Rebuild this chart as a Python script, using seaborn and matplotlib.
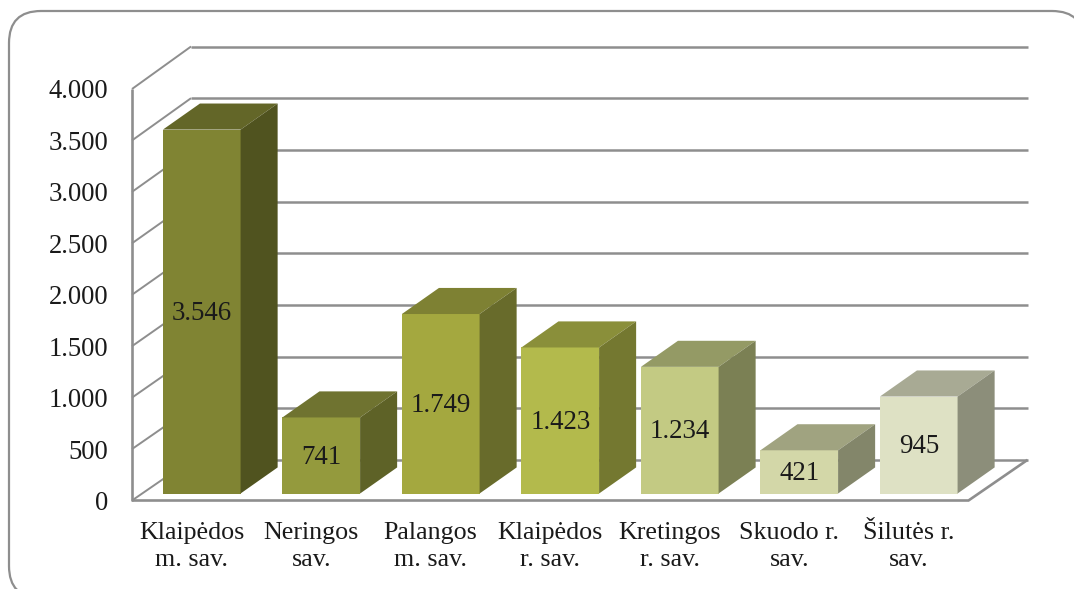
import matplotlib
matplotlib.use("Agg")
import matplotlib.pyplot as plt
import seaborn as sns
import pandas as pd
from matplotlib.patches import FancyBboxPatch

categories = ["Klaipėdos\nm. sav.", "Neringos\nsav.", "Palangos\nm. sav.", "Klaipėdos\nr. sav.",
              "Kretingos\nr. sav.", "Skuodo r.\nsav.", "Šilutės r.\nsav."]
values = [3546, 741, 1749, 1423, 1234, 421, 945]
value_labels = ["3.546", "741", "1.749", "1.423", "1.234", "421", "945"]
y_ticks = [0, 500, 1000, 1500, 2000, 2500, 3000, 3500, 4000]
y_tick_labels = ["0", "500", "1.000", "1.500", "2.000", "2.500", "3.000", "3.500", "4.000"]
front_colors = ["#808433", "#949A3D", "#A4A83F", "#B3BA4C", "#C3CA83", "#D3D7A8", "#DEE1C4"]
top_colors = ["#636628", "#6F7330", "#7E8133", "#8A8F3A", "#949A65", "#A0A380", "#A8AA94"]
side_colors = ["#50531F", "#5E6227", "#686B2B", "#747830", "#7B8054", "#83866A", "#8C8E7A"]

W, H = 1074, 589
GRAY = "#8E8E8E"
FONT = "Liberation Serif"
FS_Y, FS_X, FS_V = 19.2, 18.7, 19.4

sns.set_theme(style="white")
plt.rcParams["font.family"] = [FONT, "DejaVu Sans"]
fig = plt.figure(figsize=(W / 100, H / 100), dpi=100, facecolor="white")

def axes_px(x0, x1, ytop, ybot, **kw):
    return fig.add_axes([x0 / W, 1 - ybot / H, (x1 - x0) / W, (ybot - ytop) / H], **kw)

# rounded outer border
bg = axes_px(0, W, 0, H, zorder=0)
bg.set_xlim(0, W); bg.set_ylim(H, 0); bg.axis("off")
bg.add_patch(FancyBboxPatch((37, 39), 1019, 531, boxstyle="round,pad=28,rounding_size=32",
                            fc="white", ec=GRAY, lw=1.6, clip_on=False))

# wall / floor axes carrying the value axis and the category labels
ax = axes_px(132, 968.5, 89, 500.5, zorder=1)
ax.patch.set_alpha(0)
ax.set_xlim(-0.5, 6.5)
ax.set_ylim(0, 4000)
for s in ax.spines.values():
    s.set_visible(False)
n = len(categories)
WALL_DX, WALL_DY, WALL_STRETCH = 0.494, 395, 1.0045
x0, x1 = -0.5, n - 0.5
line = dict(color=GRAY, clip_on=False, solid_capstyle="butt")
for t in y_ticks:
    back = WALL_DY + t * WALL_STRETCH
    ax.plot([x0, x0 + WALL_DX], [t, back], lw=1.4, **line)
    ax.plot([x0 + WALL_DX, x1 + WALL_DX], [back, back], lw=1.8, **line)
ax.plot([x0, x0], [0, 4000], lw=1.9, **line)
ax.plot([x0, x1, x1 + WALL_DX], [0, 0, WALL_DY], solid_joinstyle="miter", lw=1.9, **line)
ax.set_yticks(y_ticks, y_tick_labels, fontsize=FS_Y, color="#1a1a1a", family=[FONT, "DejaVu Sans"])
ax.set_xticks(range(n), categories, fontsize=FS_X, color="#1a1a1a", family=[FONT, "DejaVu Sans"],
              linespacing=1.29)
ax.tick_params(axis="y", length=0, pad=17)
ax.tick_params(axis="x", length=0, pad=15.5)

# bars: same scales, shifted into the depth of the floor
bars = axes_px(142, 978.5, 83, 493.5, zorder=2)
bars.patch.set_alpha(0)
df = pd.DataFrame({"cat": categories, "val": values})
sns.barplot(data=df, x="cat", y="val", hue="cat", palette=front_colors, saturation=1,
            width=0.65, legend=False, linewidth=0, ax=bars)
bars.set_xlim(-0.5, 6.5)
bars.set_ylim(0, 4000)
bars.axis("off")
BAR_DX, BAR_DY = 0.31, 254
for i, cont in enumerate(bars.containers):
    p = cont.patches[0]
    l, r, h = p.get_x(), p.get_x() + p.get_width(), p.get_height()
    bars.fill([l, r, r + BAR_DX, l + BAR_DX], [h, h, h + BAR_DY, h + BAR_DY],
              color=top_colors[i], lw=0, clip_on=False)
    bars.fill([r, r + BAR_DX, r + BAR_DX, r], [0, BAR_DY, h + BAR_DY, h],
              color=side_colors[i], lw=0, clip_on=False)
    for t in bars.bar_label(cont, labels=[value_labels[i]], label_type="center",
                            fontsize=FS_V, color="#1a1a1a", family=[FONT, "DejaVu Sans"]):
        t.xyann = (0, -1.2)

fig.savefig("out.png", dpi=100)
